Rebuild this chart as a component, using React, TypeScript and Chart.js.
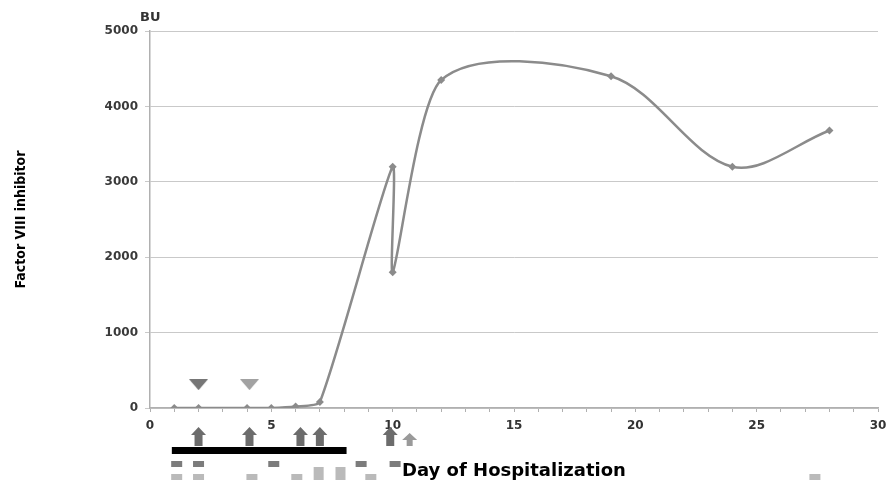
import React, { useEffect, useRef } from "react";
import { Chart, registerables } from "chart.js";

Chart.register(...registerables);

// Main series: Factor VIII inhibitor titre (BU) by day of hospitalization
const days = [1, 2, 4, 5, 6, 7, 10, 10, 12, 19, 24, 28];
const inhibitor = [0, 0, 0, 0, 20, 80, 3200, 1800, 4350, 4400, 3200, 3680];

// Down-pointing triangles above the baseline
const triangleDays = [2, 4.1];
const triangleValues = [310, 310];
const triangleColors = ["#767676", "#a2a2a2"];

// Annotation marks beneath the x axis
const darkArrowDays = [2, 4.1, 6.2, 7, 9.9];
const lightArrowDays = [10.7];
const therapyBar = [0.9, 8.1];
const darkSquareDays = [1.1, 2, 5.1, 8.7, 10.1];
const lightSquareDays = [1.1, 2, 4.2, 6.05, 9.1, 27.4];
const tallLightSquareDays = [6.95, 7.85];

const xTicks = [0, 5, 10, 15, 20, 25, 30];
const yTicks = [0, 1000, 2000, 3000, 4000, 5000];

const GRID = "#c9c9c9";
const AXIS = "#b0b0b0";
const LINE = "#8b8b8b";

// the curve is drawn in two overlapping smoothing passes (rising part / plateau part)
const SPLIT = 8; // index of day 12, where the two passes meet

function makeTriangle(color: string) {
  const c = document.createElement("canvas");
  c.width = 19;
  c.height = 11;
  const g = c.getContext("2d")!;
  g.fillStyle = color;
  g.beginPath();
  g.moveTo(0, 0);
  g.lineTo(19, 0);
  g.lineTo(9.5, 11);
  g.closePath();
  g.fill();
  return c;
}

const annotationPlugin = {
  id: "annotations",
  afterDraw(chart: any) {
    const { ctx, chartArea, scales } = chart;
    const x = scales.x;
    const b = chartArea.bottom;
    ctx.save();
    // BU unit label
    ctx.fillStyle = "#333";
    ctx.font = "bold 13px 'DejaVu Sans'";
    ctx.textAlign = "left";
    ctx.textBaseline = "middle";
    ctx.fillText("BU", chartArea.left - 10, chartArea.top - 13);

    const arrow = (px: number, top: number, bottom: number, headW: number, shaftW: number, headH: number, color: string) => {
      ctx.fillStyle = color;
      ctx.beginPath();
      ctx.moveTo(px, top);
      ctx.lineTo(px + headW / 2, top + headH);
      ctx.lineTo(px + shaftW / 2, top + headH);
      ctx.lineTo(px + shaftW / 2, bottom);
      ctx.lineTo(px - shaftW / 2, bottom);
      ctx.lineTo(px - shaftW / 2, top + headH);
      ctx.lineTo(px - headW / 2, top + headH);
      ctx.closePath();
      ctx.fill();
    };
    darkArrowDays.forEach((d) => arrow(x.getPixelForValue(d), b + 19, b + 38, 15, 8, 8, "#6c6c6c"));
    lightArrowDays.forEach((d) => arrow(x.getPixelForValue(d), b + 25, b + 38, 15, 6, 7, "#9a9a9a"));

    // therapy bar
    ctx.fillStyle = "#000";
    const x0 = x.getPixelForValue(therapyBar[0]);
    const x1 = x.getPixelForValue(therapyBar[1]);
    ctx.fillRect(x0, b + 39, x1 - x0, 7);

    ctx.fillStyle = "#7c7c7c";
    darkSquareDays.forEach((d) => {
      const p = x.getPixelForValue(d);
      ctx.fillRect(p - 5.5, b + 53, 11, 6);
    });
    ctx.fillStyle = "#bababa";
    lightSquareDays.forEach((d) => {
      const p = x.getPixelForValue(d);
      ctx.fillRect(p - 5.5, b + 66, 11, 6);
    });
    tallLightSquareDays.forEach((d) => {
      const p = x.getPixelForValue(d);
      ctx.fillRect(p - 5, b + 59, 10, 13);
    });
    ctx.restore();
  },
};

export default function App() {
  const ref = useRef<HTMLCanvasElement | null>(null);
  useEffect(() => {
    if (!ref.current) return;
    const triStyles = triangleColors.map((c) => makeTriangle(c));
    const pts = days.map((d, i) => ({ x: d, y: inhibitor[i] }));
    const risePts = pts.slice(0, SPLIT + 2); // up to day 19 (for the tangent at day 12)
    const platPts = pts.slice(SPLIT - 1); // from day 10 (1800) onward
    const common = {
      borderColor: LINE,
      backgroundColor: LINE,
      borderWidth: 2.5,
      pointStyle: "rectRot",
      pointBorderWidth: 0,
      pointBackgroundColor: LINE,
      fill: false,
    };
    const chart = new Chart(ref.current, {
      type: "line",
      data: {
        datasets: [
          {
            ...common,
            label: "Factor VIII inhibitor",
            data: risePts,
            tension: 0.2,
            pointRadius: risePts.map((_, i) => (i <= SPLIT ? 4 : 0)),
            segment: {
              borderColor: (c: any) => (c.p0DataIndex >= SPLIT ? "rgba(0,0,0,0)" : LINE),
            },
          } as any,
          {
            ...common,
            label: "Factor VIII inhibitor (cont.)",
            data: platPts,
            tension: 0.33,
            pointRadius: platPts.map((_, i) => (i >= 2 ? 4 : 0)),
            segment: {
              borderColor: (c: any) => (c.p0DataIndex < 1 ? "rgba(0,0,0,0)" : LINE),
            },
          } as any,
          {
            label: "markers",
            data: triangleDays.map((d, i) => ({ x: d, y: triangleValues[i] })),
            showLine: false,
            pointStyle: triStyles as any,
            pointRadius: 8,
          },
        ],
      },
      options: {
        animation: false,
        responsive: false,
        maintainAspectRatio: false,
        layout: { padding: { top: 31, right: 8, left: 0, bottom: 0 } },
        plugins: {
          legend: { display: false },
          tooltip: { enabled: false },
        },
        scales: {
          x: {
            type: "linear",
            min: 0,
            max: 30,
            afterBuildTicks: (scale: any) => {
              const t = [];
              for (let v = 0; v <= 30; v++) t.push({ value: v });
              scale.ticks = t;
            },
            ticks: {
              autoSkip: false,
              maxRotation: 0,
              padding: 7,
              color: "#333",
              font: { family: "'DejaVu Sans'", size: 12, weight: "bold" },
              callback: (v: any) => (xTicks.includes(Number(v)) ? String(v) : ""),
            },
            grid: {
              display: true,
              drawOnChartArea: false,
              tickLength: 4,
              color: AXIS,
            },
            border: { color: AXIS, width: 1.5 },
            title: {
              display: true,
              text: "Day of Hospitalization",
              color: "#000",
              font: { family: "'DejaVu Sans'", size: 18, weight: "bold" },
              padding: { top: 0, bottom: 0 },
            },
            afterFit: (scale: any) => {
              scale.height = 74;
              scale.paddingLeft = 0;
              scale.paddingRight = 0;
            },
          },
          y: {
            min: 0,
            max: 5000,
            afterBuildTicks: (scale: any) => {
              scale.ticks = yTicks.map((v) => ({ value: v }));
            },
            ticks: {
              padding: 7,
              color: "#3a3a3a",
              font: { family: "'DejaVu Sans'", size: 12, weight: "bold" },
              callback: (v: any) => String(v),
            },
            grid: { color: GRID, tickLength: 5, lineWidth: 1 },
            border: { color: AXIS, width: 1.5 },
            title: {
              display: true,
              text: "Factor VIII inhibitor",
              color: "#000",
              font: { family: "'Liberation Sans Narrow', 'DejaVu Sans Condensed', sans-serif", size: 14, weight: "bold" },
              padding: { top: 13, bottom: 0 },
            },
            afterFit: (scale: any) => {
              scale.width = 150;
            },
          },
        },
      },
      plugins: [annotationPlugin],
    });
    return () => chart.destroy();
  }, []);
  return (
    <div style={{ position: "fixed", left: 0, top: 0, width: 887, height: 482, background: "#fff" }}>
      <canvas ref={ref} width={887} height={482} style={{ width: 887, height: 482, display: "block" }} />
    </div>
  );
}
